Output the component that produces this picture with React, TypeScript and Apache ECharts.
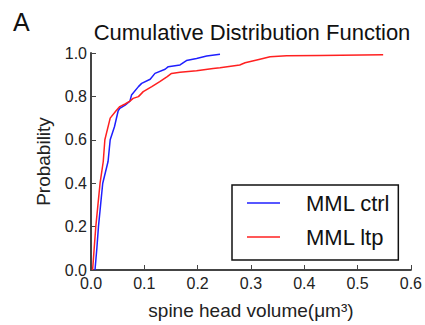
import React, { useEffect, useRef } from "react";
import * as echarts from "echarts";

const ctrlX = [0.0075, 0.011, 0.014, 0.018, 0.022, 0.032, 0.036, 0.044, 0.051, 0.054, 0.064, 0.073, 0.076, 0.089, 0.095, 0.111, 0.12, 0.139, 0.145, 0.167, 0.179, 0.198, 0.217, 0.242];
const ctrlY = [0.0, 0.1, 0.2, 0.3, 0.4, 0.5, 0.6, 0.66, 0.734, 0.745, 0.76, 0.778, 0.806, 0.845, 0.86, 0.879, 0.906, 0.925, 0.937, 0.945, 0.965, 0.975, 0.986, 0.994];

const ltpX = [0.003, 0.006, 0.009, 0.013, 0.017, 0.023, 0.026, 0.036, 0.047, 0.054, 0.064, 0.073, 0.079, 0.089, 0.098, 0.114, 0.129, 0.143, 0.151, 0.167, 0.198, 0.229, 0.242, 0.279, 0.289, 0.311, 0.336, 0.367, 0.429, 0.548];
const ltpY = [0.0, 0.1, 0.2, 0.3, 0.4, 0.5, 0.6, 0.7, 0.734, 0.753, 0.765, 0.778, 0.791, 0.799, 0.822, 0.845, 0.868, 0.891, 0.906, 0.911, 0.918, 0.929, 0.932, 0.945, 0.955, 0.968, 0.983, 0.987, 0.989, 0.992];

const seriesNames = ["MML ctrl", "MML ltp"];
const xTicks = [0, 0.1, 0.2, 0.3, 0.4, 0.5, 0.6];

export default function App() {
  const ref = useRef<HTMLDivElement>(null);
  useEffect(() => {
    if (!ref.current) return;
    const chart = echarts.init(ref.current, null, { renderer: "svg" });
    const font = "Liberation Sans, Arial, sans-serif";
    const axisCommon = {
      type: "value" as const,
      interval: 0.1,
      axisLine: { show: true, lineStyle: { color: "#444", width: 2 } },
      axisTick: { show: true, inside: true, length: 5, lineStyle: { color: "#444", width: 1 } },
      splitLine: { show: false },
      axisLabel: {
        fontSize: 16,
        color: "#222",
        fontFamily: font,
        formatter: (v: number) => v.toFixed(1),
      },
      nameLocation: "middle" as const,
      nameTextStyle: { fontSize: 19, color: "#222", fontFamily: font },
    };
    chart.setOption({
      animation: false,
      textStyle: { fontFamily: font },
      grid: { left: 91, right: 14, top: 53, bottom: 55, containLabel: false },
      xAxis: {
        ...axisCommon,
        min: xTicks[0],
        max: xTicks[xTicks.length - 1],
        name: "spine head volume(μm³)",
        nameGap: 31,
        axisLabel: { ...axisCommon.axisLabel, margin: 5 },
      },
      yAxis: {
        ...axisCommon,
        min: 0,
        max: 1,
        interval: 0.2,
        name: "Probability",
        nameGap: 38,
        axisLabel: { ...axisCommon.axisLabel, margin: 4 },
      },
      legend: {
        orient: "vertical",
        left: 232,
        top: 185,
        data: seriesNames,
        icon: "rect",
        itemWidth: 33,
        itemHeight: 1.5,
        itemGap: 12,
        borderColor: "#111",
        borderWidth: 1.5,
        borderRadius: 0,
        padding: [7, 8, 12, 15],
        textStyle: { fontSize: 22, color: "#111", fontFamily: font, lineHeight: 22, padding: [0, 0, 0, 21] },
      },
      graphic: [
        { type: "text", left: 13, top: 9, style: { text: "A", fontSize: 25, fill: "#111", fontFamily: font } },
        {
          type: "text",
          x: 252,
          y: 32,
          style: { text: "Cumulative Distribution Function", fontSize: 22, fill: "#111", fontFamily: font, align: "center", verticalAlign: "middle" },
        },
      ],
      series: [
        {
          name: seriesNames[0],
          type: "line",
          showSymbol: false,
          symbol: "none",
          data: ctrlX.map((x, i) => [x, ctrlY[i]]),
          lineStyle: { color: "#1f1fff", width: 1.5 },
          itemStyle: { color: "#1f1fff" },
        },
        {
          name: seriesNames[1],
          type: "line",
          showSymbol: false,
          symbol: "none",
          data: ltpX.map((x, i) => [x, ltpY[i]]),
          lineStyle: { color: "#ff2020", width: 1.5 },
          itemStyle: { color: "#ff2020" },
        },
      ],
    });
    return () => chart.dispose();
  }, []);
  return <div ref={ref} style={{ width: 425, height: 325, position: "absolute", left: 0, top: 0 }} />;
}
